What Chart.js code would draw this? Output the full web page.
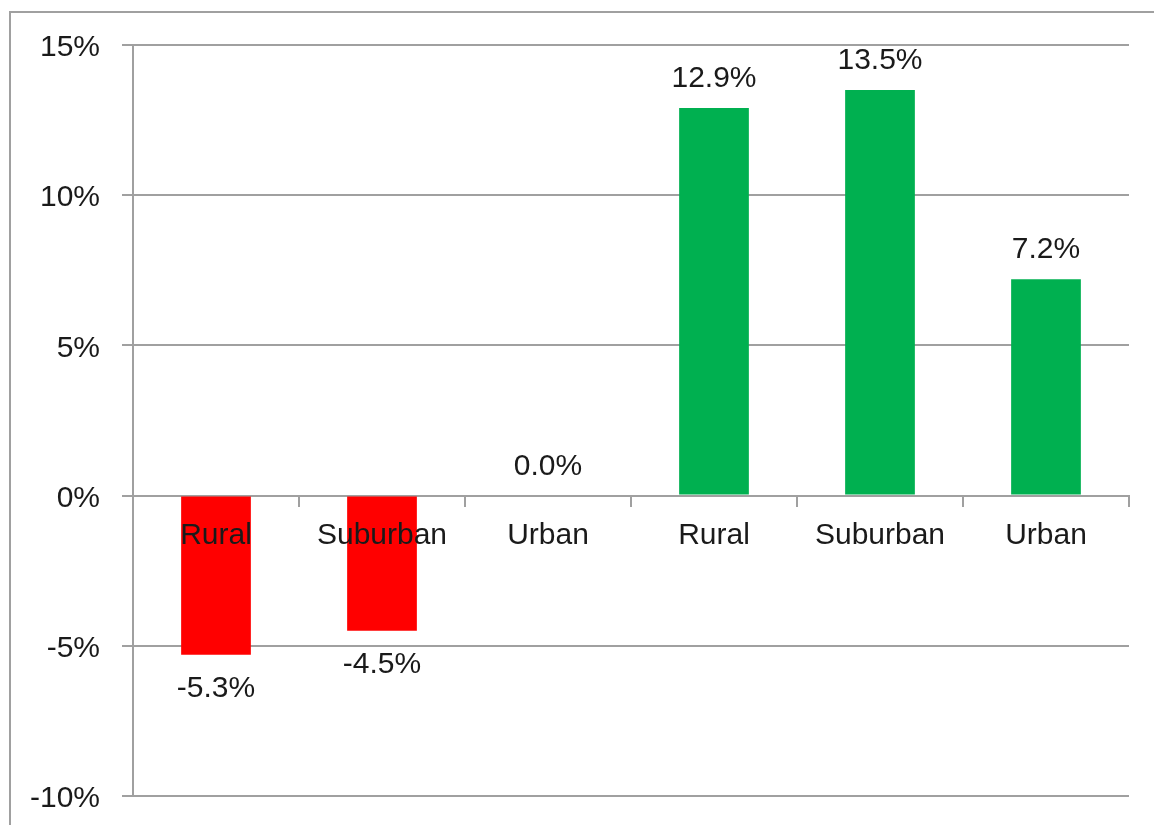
<!DOCTYPE html>
<html>
<head>
<meta charset="utf-8">
<script src="https://cdn.jsdelivr.net/npm/chart.js@4/dist/chart.umd.min.js"></script>
<style>
  html, body { margin: 0; padding: 0; background: #ffffff; }
  #wrap { position: relative; width: 1154px; height: 825px; }
</style>
</head>
<body>
<div id="wrap"><canvas id="c" width="1154" height="825"></canvas></div>
<script>
const categories = ["Rural", "Suburban", "Urban", "Rural", "Suburban", "Urban"];
const values = [-5.3, -4.5, 0.0, 12.9, 13.5, 7.2];
const barColors = ["#ff0000", "#ff0000", "#ff0000", "#00b050", "#00b050", "#00b050"];
const yMin = -10, yMax = 15, yStep = 5;

const FONT = '"Liberation Sans", Arial, sans-serif';
const TEXT = '#1a1a1a';
const GRID = '#a0a0a0';

const framePlugin = {
  id: 'frame',
  beforeDraw(chart) {
    const ctx = chart.ctx;
    ctx.save();
    ctx.fillStyle = '#ffffff';
    ctx.fillRect(0, 0, chart.width, chart.height);
    ctx.strokeStyle = GRID;
    ctx.lineWidth = 2;
    ctx.beginPath();
    ctx.moveTo(10, chart.height + 5);
    ctx.lineTo(10, 12);
    ctx.lineTo(chart.width + 5, 12);
    ctx.stroke();
    ctx.restore();
  }
};

const valueLabels = {
  id: 'valueLabels',
  afterDatasetsDraw(chart) {
    const ctx = chart.ctx;
    const meta = chart.getDatasetMeta(0);
    ctx.save();
    ctx.font = '30px ' + FONT;
    ctx.fillStyle = TEXT;
    ctx.textAlign = 'center';
    ctx.textBaseline = 'alphabetic';
    meta.data.forEach((bar, i) => {
      const v = values[i];
      const txt = v.toFixed(1) + '%';
      if (v < 0) {
        ctx.fillText(txt, bar.x, bar.y + 42);
      } else {
        ctx.fillText(txt, bar.x, bar.y - 21);
      }
    });
    ctx.restore();
  }
};

new Chart(document.getElementById('c'), {
  type: 'bar',
  data: {
    labels: categories,
    datasets: [{
      data: values,
      backgroundColor: barColors,
      borderWidth: 0,
      barPercentage: 0.42,
      categoryPercentage: 1.0
    }]
  },
  options: {
    responsive: false,
    animation: false,
    devicePixelRatio: 1,
    layout: { padding: { left: 0, top: 45, right: 25, bottom: 29 } },
    plugins: {
      legend: { display: false },
      tooltip: { enabled: false },
      title: { display: false }
    },
    scales: {
      x: {
        type: 'category',
        position: { y: 0 },
        offset: true,
        grid: {
          display: true,
          offset: true,
          drawOnChartArea: false,
          drawTicks: true,
          tickLength: 10,
          color: GRID,
          lineWidth: 2
        },
        border: { display: true, color: GRID, width: 2 },
        ticks: {
          z: 1,
          font: { family: FONT, size: 30 },
          color: TEXT,
          padding: 12,
          maxRotation: 0,
          autoSkip: false
        }
      },
      y: {
        min: yMin,
        max: yMax,
        afterFit(scale) {
          scale.width = 133;
          scale.paddingTop = 0;
          scale.paddingBottom = 0;
        },
        grid: {
          color: GRID,
          lineWidth: 2,
          tickLength: 11,
          drawTicks: true
        },
        border: { display: true, color: GRID, width: 2 },
        ticks: {
          stepSize: yStep,
          font: { family: FONT, size: 30 },
          color: TEXT,
          padding: 22,
          labelOffset: 3,
          callback: (v) => v + '%'
        }
      }
    }
  },
  plugins: [framePlugin, valueLabels]
});
</script>
</body>
</html>
